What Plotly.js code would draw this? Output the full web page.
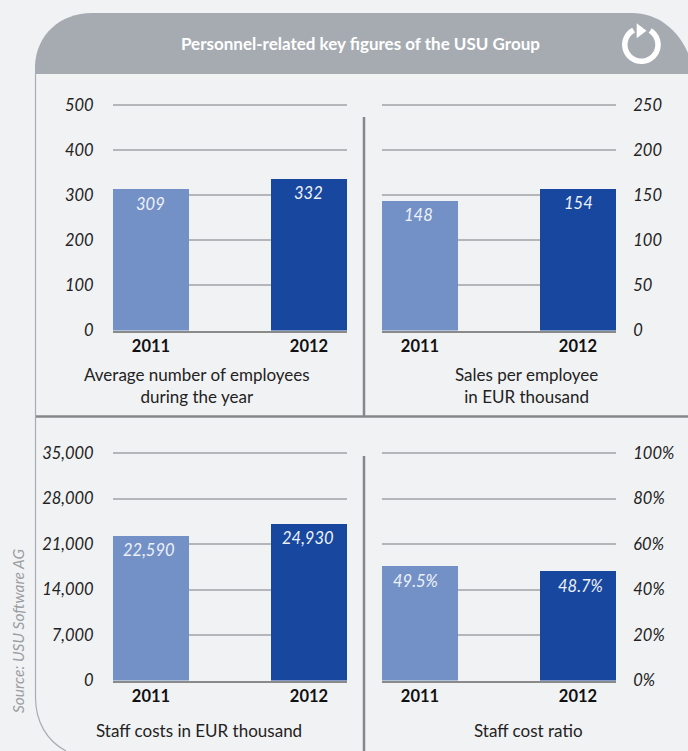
<!DOCTYPE html>
<html>
<head>
<meta charset="utf-8">
<script src="https://cdn.plot.ly/plotly-3.0.1.min.js"></script>
<style>html,body{margin:0;padding:0;background:#f1f2f4;overflow:hidden}</style>
</head>
<body>
<div id="chart" style="width:688px;height:751px"></div>
<script>
var years = ['2011', '2012'];
var employeesBars = [313, 336];
var employeesLabels = ['309', '332'];
var salesBars = [144, 157];
var salesLabels = ['148', '154'];
var costsBars = [22240, 24090];
var costsLabels = ['22,590', '24,930'];
var ratioBars = [50.3, 48.1];
var ratioLabels = ['49.5%', '48.7%'];
var employeesTicks = [0, 100, 200, 300, 400, 500];
var salesTicks = [0, 50, 100, 150, 200, 250];
var costsTicks = [0, 7000, 14000, 21000, 28000, 35000];
var costsTickText = ['0', '7,000', '14,000', '21,000', '28,000', '35,000'];
var ratioTicks = [0, 20, 40, 60, 80, 100];
var ratioTickText = ['0%', '20%', '40%', '60%', '80%', '100%'];
var barColors = ['#7391c6', '#17479e'];
var titleText = 'Personnel-related key figures of the USU Group';
var sourceText = 'Source: USU Software AG';

var W = 688, H = 751, FONT = 'Lato, "Open Sans", sans-serif';
function px(x) { return x / W; }
function py(y) { return 1 - y / H; }
function P(cmd, pts) { return cmd + pts.map(function (p) { return px(p[0]) + ',' + py(p[1]); }).join(' '); }

var panels = [
  {x: 'x',  y: 'y',  xr: [113, 347], yr: [105, 330.5], max: 500,   vals: employeesBars, labs: employeesLabels, ticks: employeesTicks, side: 'left', dx: [-1, -1]},
  {x: 'x2', y: 'y2', xr: [382, 616], yr: [105, 330.5], max: 250,   vals: salesBars,     labs: salesLabels,     ticks: salesTicks,     side: 'right', dx: [-2, 0]},
  {x: 'x3', y: 'y3', xr: [113, 347], yr: [453, 680.5], max: 35000, vals: costsBars,     labs: costsLabels,     ticks: costsTicks, text: costsTickText, side: 'left', dx: [-2, -1]},
  {x: 'x4', y: 'y4', xr: [382, 616], yr: [453, 680.5], max: 100,   vals: ratioBars,     labs: ratioLabels,     ticks: ratioTicks, text: ratioTickText, side: 'right', dx: [-5, 2]}
];

var data = [], annotations = [];
var layout = {
  width: W, height: H, margin: {l: 0, r: 0, t: 0, b: 0},
  paper_bgcolor: '#f1f2f4', plot_bgcolor: 'rgba(0,0,0,0)',
  showlegend: false, bargap: 0, font: {family: FONT, color: '#222'}
};

panels.forEach(function (p, i) {
  var n = i === 0 ? '' : String(i + 1);
  var span = p.yr[1] - p.yr[0];
  data.push({
    type: 'bar', x: years, y: p.vals, xaxis: p.x, yaxis: p.y, width: 0.481,
    marker: {color: barColors, line: {width: 0}}, hoverinfo: 'skip'
  });
  layout['xaxis' + n] = {
    domain: [px(p.xr[0]), px(p.xr[1])], anchor: p.y, type: 'category',
    range: [-0.2405, 1.2405], showgrid: false, zeroline: false, showline: true,
    linecolor: '#8a8a8a', linewidth: 2, ticks: 'outside', ticklen: 0, tickcolor: 'rgba(0,0,0,0)',
    tickfont: {family: FONT, size: 16.5, color: '#111', weight: 700}, fixedrange: true
  };
  var ya = {
    domain: [py(p.yr[1]), py(p.yr[0] - 2)], anchor: p.x, side: p.side, range: [0, p.max * (1 + 2 / span)],
    tickmode: 'array', tickvals: p.ticks, showgrid: true, gridcolor: '#b4b6b9', gridwidth: 2,
    zeroline: false, showline: false, ticks: 'outside', tickcolor: 'rgba(0,0,0,0)',
    ticklen: p.side === 'left' ? 15 : 13,
    tickfont: {family: FONT, size: 16.5, color: '#222', style: 'italic'}, fixedrange: true
  };
  if (p.text) ya.ticktext = p.text; else ya.ticktext = p.ticks.map(String);
  layout['yaxis' + n] = ya;
  p.vals.forEach(function (v, j) {
    annotations.push({
      xref: p.x, yref: p.y, x: j, y: v, yshift: -14.5, xshift: p.dx[j], text: p.labs[j], showarrow: false,
      xanchor: 'center', yanchor: 'middle',
      font: {family: FONT, size: 16.5, color: '#eef1f8', style: 'italic'}
    });
  });
});

function caption(text, cx, cy) {
  return {xref: 'paper', yref: 'paper', x: px(cx), y: py(cy), text: text, showarrow: false,
    xanchor: 'center', yanchor: 'middle', font: {family: FONT, size: 17, color: '#222'}};
}
annotations.push(caption('Average number of employees<br>during the year', 197, 385));
annotations.push(caption('Sales per employee<br>in EUR thousand', 526, 385));
annotations.push(caption('Staff costs in EUR thousand', 199, 730));
annotations.push(caption('Staff cost ratio', 528, 730));
annotations.push({xref: 'paper', yref: 'paper', x: px(360), y: py(43.5), text: '<b>' + titleText + '</b>',
  showarrow: false, xanchor: 'center', yanchor: 'middle', font: {family: FONT, size: 17, color: '#ffffff'}});
annotations.push({xref: 'paper', yref: 'paper', x: px(18), y: py(631), text: sourceText, textangle: -90,
  showarrow: false, xanchor: 'center', yanchor: 'middle', font: {family: FONT, size: 15.5, color: '#9a9da1', style: 'italic'}});
layout.annotations = annotations;

function shape(path, fill, lineColor, lineWidth) {
  return {type: 'path', xref: 'paper', yref: 'paper', layer: 'below', path: path,
    fillcolor: fill || 'rgba(0,0,0,0)', line: {color: lineColor || 'rgba(0,0,0,0)', width: lineWidth || 0}};
}
var headerPath = P('M', [[35, 74]]) + ' ' + P('L', [[35, 66]]) + ' ' +
  P('C', [[36, 35], [60, 13], [92, 13]]) + ' ' + P('L', [[632, 13]]) + ' ' +
  P('C', [[658, 13], [678, 30], [688, 53]]) + ' ' + P('L', [[688, 74]]) + ' Z';
var borderPath = P('M', [[35.5, 74]]) + ' ' + P('L', [[35.5, 697]]) + ' ' + P('C', [[35.5, 722], [47, 741], [66, 751]]);
var cx = 641.4, cy = 44.7, r = 16.6, ring = [], deg;
for (deg = -118; deg >= -118 - 300; deg -= 6) {
  ring.push([cx + r * Math.cos(deg * Math.PI / 180), cy + r * Math.sin(deg * Math.PI / 180)]);
}
var ringPath = P('M', [ring[0]]) + ' ' + ring.slice(1).map(function (q) { return P('L', [q]); }).join(' ');
var arrowPath = P('M', [[636.7, 23.3]]) + ' ' + P('L', [[636.7, 38.3]]) + ' ' + P('L', [[646.5, 30.7]]) + ' Z';
var shapes = [
  shape(headerPath, '#a6abb2'),
  shape(borderPath, null, '#a9adb3', 1.2),
  shape(P('M', [[36, 416.5]]) + ' ' + P('L', [[688, 416.5]]), null, '#85878a', 2.5),
  shape(P('M', [[364, 117]]) + ' ' + P('L', [[364, 416]]), null, '#85878a', 2.5),
  shape(P('M', [[364, 456]]) + ' ' + P('L', [[364, 751]]), null, '#85878a', 2.5),
  shape(ringPath, null, '#ffffff', 5.5),
  shape(arrowPath, '#ffffff')
];
layout.shapes = shapes;

Plotly.newPlot('chart', data, layout, {displayModeBar: false, staticPlot: true});
</script>
</body>
</html>
